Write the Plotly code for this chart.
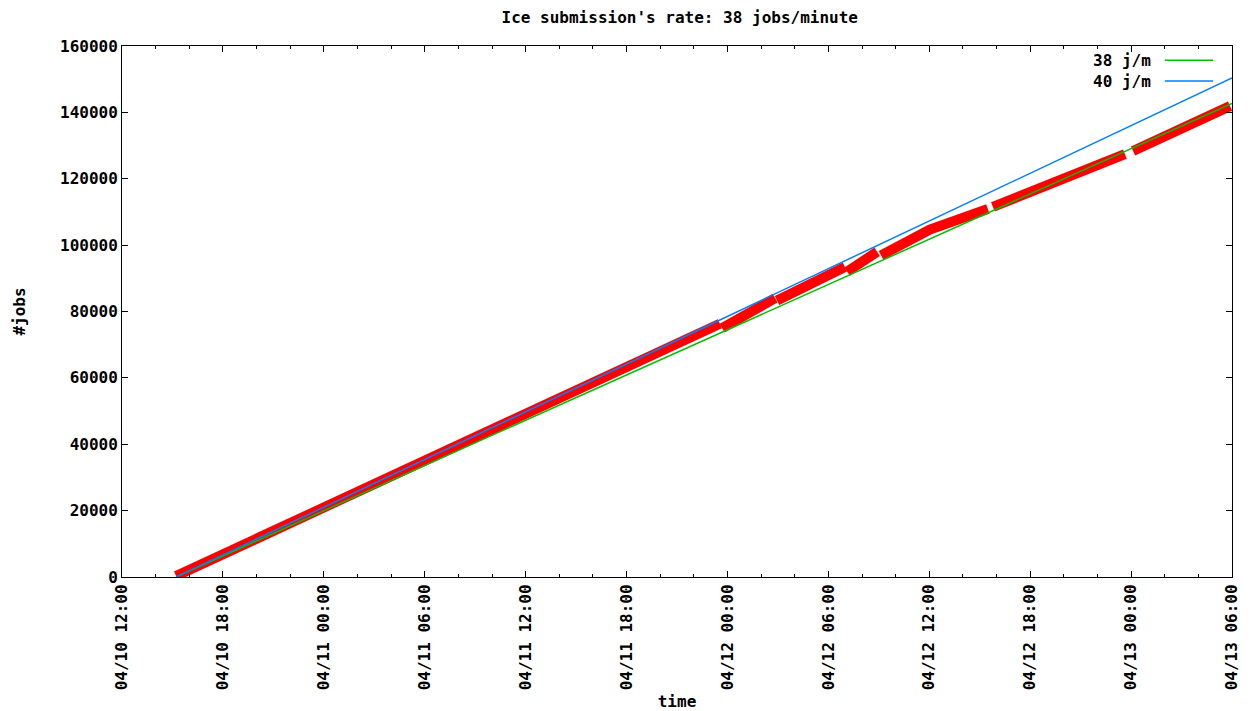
import plotly.graph_objects as go

# ---- data ----
# measured submissions (red); None separates the segments (gaps in the data)
red_time = [
    "2010-04-10 15:13", "2010-04-11 04:32", "2010-04-11 18:12", "2010-04-11 23:33", None,
    "2010-04-11 23:41", "2010-04-12 02:50", None,
    "2010-04-12 02:57", "2010-04-12 06:59", None,
    "2010-04-12 07:07", "2010-04-12 08:54", None,
    "2010-04-12 09:08", "2010-04-12 12:02", "2010-04-12 15:29", None,
    "2010-04-12 15:47", "2010-04-12 23:38", None,
    "2010-04-13 00:07", "2010-04-13 05:53",
]
red_jobs = [
    300, 31300, 63700, 76300, None,
    75000, 84000, None,
    83300, 93400, None,
    92000, 98000, None,
    96900, 104700, 110900, None,
    111500, 127450, None,
    128350, 141900,
]

# reference rates (straight lines)
rate_time = ["2010-04-10 15:13", "2010-04-13 06:00"]
rate38_jobs = [0, 142700]
rate40_jobs = [0, 150400]

legend_labels = ["38 j/m", "40 j/m"]
x_range = ["2010-04-10 12:00", "2010-04-13 06:00"]
y_range = [0, 160000]

RED = "#ff0000"
GREEN = "#00c000"
BLUE = "#0080ff"
FONT = dict(family="DejaVu Sans Mono", size=16, color="black", weight="bold")

fig = go.Figure()
fig.add_trace(go.Scatter(x=red_time, y=red_jobs, mode="lines",
                         line=dict(color=RED, width=10), connectgaps=False,
                         showlegend=False, hoverinfo="skip"))
fig.add_trace(go.Scatter(x=rate_time, y=rate38_jobs, mode="lines",
                         line=dict(color=GREEN, width=1.5), name=legend_labels[0],
                         showlegend=False))
fig.add_trace(go.Scatter(x=rate_time, y=rate40_jobs, mode="lines",
                         line=dict(color=BLUE, width=1.5), name=legend_labels[1],
                         showlegend=False))

# gnuplot-style key: text on the left, line sample on the right
key_y = [0.973, 0.934]
key_colors = [GREEN, BLUE]
for lab, ky, col in zip(legend_labels, key_y, key_colors):
    fig.add_annotation(xref="paper", yref="paper", x=0.929, y=ky, text=lab,
                       showarrow=False, xanchor="right", yanchor="middle", font=FONT)
    fig.add_shape(type="line", xref="paper", yref="paper", x0=0.9395, x1=0.983,
                  y0=ky, y1=ky, line=dict(color=col, width=1.5))

axis_common = dict(showline=True, linecolor="black", linewidth=1, mirror="ticks",
                   ticks="inside", ticklen=6, tickcolor="black", showgrid=False,
                   zeroline=False, tickfont=FONT, automargin=False)

# the page body adds an 8px offset, so the figure is 8px smaller each way
fig.update_layout(
    width=1244, height=703,
    margin=dict(l=114, r=20, t=38, b=134),
    paper_bgcolor="white", plot_bgcolor="white",
    title=dict(text="Ice submission's rate: 38 jobs/minute", font=FONT,
               x=0.54, xanchor="center", y=1 - 9 / 703, yanchor="middle",
               yref="container", automargin=False),
    xaxis=dict(type="date", range=x_range, tick0="2010-04-10 12:00",
               dtick=6 * 3600 * 1000, tickformat="%m/%d %H:%M", tickangle=-90,
               minor=dict(dtick=2 * 3600 * 1000, ticks="inside", ticklen=3,
                          tickcolor="black"),
               title=dict(text="time", font=FONT, standoff=7),
               **axis_common),
    yaxis=dict(range=y_range, dtick=20000, tickformat="d",
               title=dict(text="#jobs", font=FONT, standoff=30),
               **axis_common),
)

fig.write_html("out.html")
